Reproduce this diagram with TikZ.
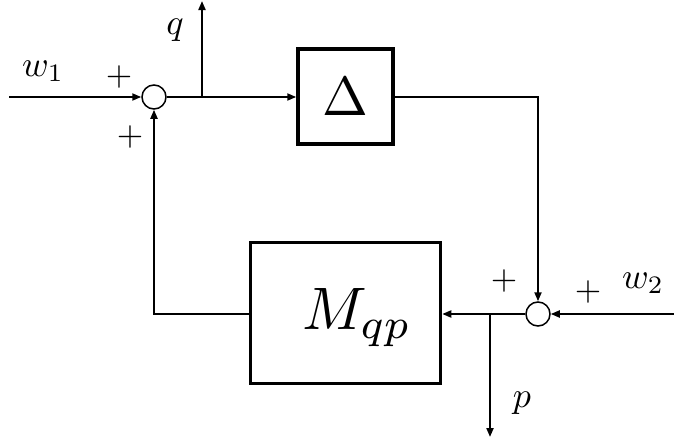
\documentclass[tikz,border=0pt]{standalone}
\usepackage{graphicx}
\usetikzlibrary{arrows.meta}
\newcommand{\bigtxt}[2]{\scalebox{#1}{$#2$}}
\begin{document}
\begin{tikzpicture}[x=1pt,y=-1pt,
 conn/.style={line width=2pt},
 arr/.style={conn,-{Triangle[length=9pt,width=7pt]}},
 blk/.style={draw,line width=3.5pt,inner sep=0pt},
 sumc/.style={draw,circle,line width=1.5pt,minimum size=24pt,inner sep=0pt},
 lbl/.style={inner sep=0pt}]
\useasboundingbox (0,0) rectangle (674,439);
\node[blk,minimum width=95pt,minimum height=95pt] (D) at (345.5,96.5) {};
\node[lbl] (Dt) at (345.5,97) {\bigtxt{5.5}{\Delta}};
\node[blk,minimum width=190pt,minimum height=141pt] (M) at (345.5,313) {};
\node[lbl] (Mt) at (357,318) {\bigtxt{6}{M_{qp}}};
\node[sumc] (s1) at (154,97) {};
\node[sumc] (s2) at (538,314) {};
\coordinate (w1in) at (9,97);
\coordinate (w2in) at (674,314);
\coordinate (qb) at (202,97);
\coordinate (qtop) at (202,1);
\coordinate (pb) at (490,314);
\coordinate (pend) at (490,437);
\draw[arr] (w1in) -- (s1.west);
\draw[arr] (s1.east) -- (s1.east -| D.west);
\draw[arr] (qb) -- (qtop);
\draw[arr] (D.east) -| (s2.north);
\draw[arr] (w2in) -- (s2.east);
\draw[arr] (s2.west) -- (s2.west -| M.east);
\draw[arr] (pb) -- (pend);
\draw[arr] (s2.west -| M.west) -| (s1.south);
\node[lbl] (lw1) at (43,71) {\bigtxt{3.6}{w_1}};
\node[lbl] (p1) at (119,77) {\bigtxt{3.4}{+}};
\node[lbl] (p2) at (130,137) {\bigtxt{3.4}{+}};
\node[lbl] (lq) at (175,30) {\bigtxt{3.6}{q}};
\node[lbl] (lw2) at (643,283) {\bigtxt{3.6}{w_2}};
\node[lbl] (p3) at (588,292) {\bigtxt{3.4}{+}};
\node[lbl] (p4) at (504,281) {\bigtxt{3.4}{+}};
\node[lbl] (lp) at (522,403) {\bigtxt{3.6}{p}};
\end{tikzpicture}
\end{document}
